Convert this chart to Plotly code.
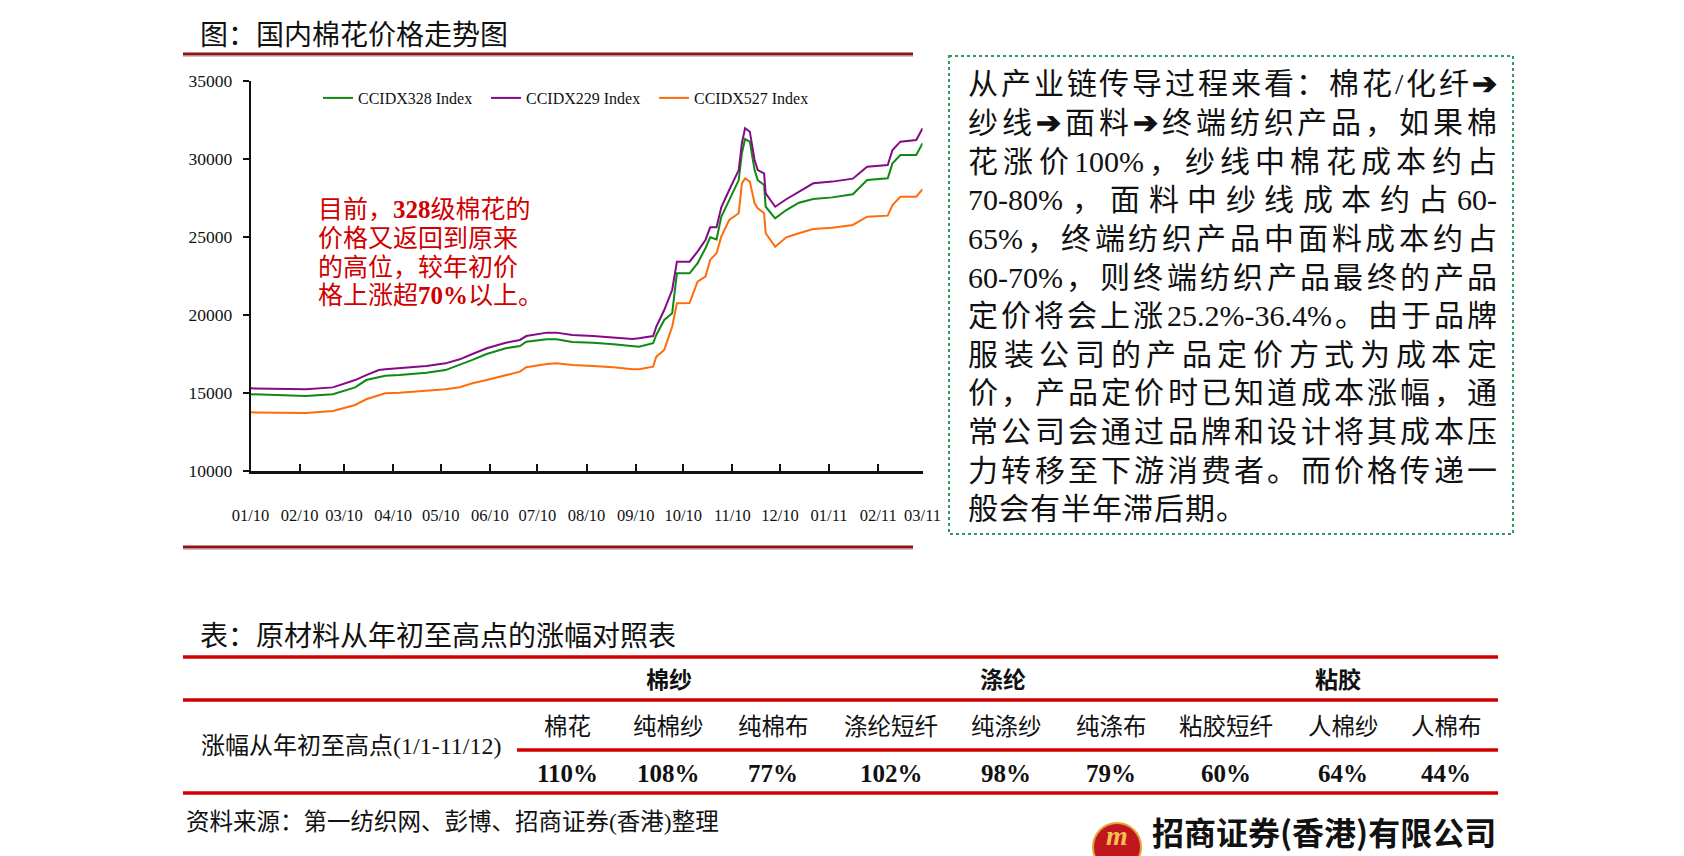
import plotly.graph_objects as go

W, H = 1684, 856

# ---------------- data ----------------
dates = ["2010-01-01", "2010-01-26", "2010-02-05", "2010-02-22", "2010-02-28", "2010-03-08",
         "2010-03-15", "2010-03-23", "2010-03-27", "2010-04-05", "2010-04-22", "2010-05-04",
         "2010-05-13", "2010-05-21", "2010-05-30", "2010-06-11", "2010-06-20", "2010-06-24",
         "2010-07-07", "2010-07-13", "2010-07-23", "2010-08-05", "2010-08-18", "2010-08-30",
         "2010-09-03", "2010-09-12", "2010-09-14", "2010-09-19", "2010-09-24", "2010-09-27",
         "2010-10-05", "2010-10-10", "2010-10-15", "2010-10-18", "2010-10-22", "2010-10-25",
         "2010-10-30", "2010-11-05", "2010-11-07", "2010-11-09", "2010-11-12", "2010-11-15",
         "2010-11-17", "2010-11-21", "2010-11-22", "2010-11-28", "2010-12-05", "2010-12-13",
         "2010-12-22", "2011-01-03", "2011-01-16", "2011-01-25", "2011-02-07", "2011-02-10",
         "2011-02-15", "2011-02-25", "2011-03-01"]

ccidx328 = [14920, 14870, 14810, 14920, 15130, 15360, 15830, 16050, 16110, 16150, 16300, 16470,
            16800, 17120, 17500, 17870, 18010, 18290, 18440, 18440, 18270, 18220, 18120, 18010,
            17970, 18190, 18720, 19680, 20110, 22670, 22670, 23310, 24280, 24980, 24850, 26300,
            27370, 28650, 30370, 31280, 31110, 29290, 28650, 28330, 26940, 26200, 26730, 27200,
            27440, 27540, 27740, 28650, 28760, 29720, 30260, 30260, 31010]

ccidx229 = [15300, 15280, 15240, 15360, 15580, 15830, 16150, 16470, 16520, 16580, 16730, 16900,
            17160, 17500, 17870, 18220, 18400, 18650, 18870, 18870, 18720, 18650, 18570, 18460,
            18510, 18650, 19250, 20320, 21600, 23420, 23420, 24060, 24810, 25620, 25620, 26900,
            28010, 29290, 31010, 31970, 31750, 29940, 29290, 29080, 27800, 26940, 27420, 27900,
            28440, 28550, 28740, 29510, 29610, 30580, 31110, 31220, 31970]

ccidx527 = [13760, 13760, 13720, 13850, 14020, 14230, 14600, 14870, 14980, 15020, 15130, 15240,
            15370, 15620, 15830, 16150, 16370, 16650, 16860, 16900, 16800, 16730, 16650, 16520,
            16520, 16690, 17330, 17760, 19250, 20750, 20770, 22130, 22460, 23530, 23960, 25020,
            26090, 26520, 28440, 28760, 28550, 27160, 26840, 26520, 25240, 24380, 24980, 25240,
            25510, 25600, 25770, 26300, 26370, 27050, 27580, 27580, 28060]

series_names = ["CCIDX328 Index", "CCIDX229 Index", "CCIDX527 Index"]
series_colors = ["#0E8A12", "#850A88", "#FF6D0A"]

y_ticks = [10000, 15000, 20000, 25000, 30000, 35000]

chart_title = "图：国内棉花价格走势图"
note_lines = ["目前，<b>328</b>级棉花的", "价格又返回到原来", "的高位，较年初价", "格上涨超<b>70%</b>以上。"]

box_lines = [
    "从产业链传导过程来看：棉花/化纤➔",
    "纱线➔面料➔终端纺织产品，如果棉",
    "花涨价100%，纱线中棉花成本约占",
    "70-80%，面料中纱线成本约占60-",
    "65%，终端纺织产品中面料成本约占",
    "60-70%，则终端纺织产品最终的产品",
    "定价将会上涨25.2%-36.4%。由于品牌",
    "服装公司的产品定价方式为成本定",
    "价，产品定价时已知道成本涨幅，通",
    "常公司会通过品牌和设计将其成本压",
    "力转移至下游消费者。而价格传递一",
    "般会有半年滞后期。",
]

table_title = "表：原材料从年初至高点的涨幅对照表"
group_labels = ["棉纱", "涤纶", "粘胶"]
item_labels = ["棉花", "纯棉纱", "纯棉布", "涤纶短纤", "纯涤纱", "纯涤布", "粘胶短纤", "人棉纱", "人棉布"]
item_values = [110, 108, 77, 102, 98, 79, 60, 64, 44]
row_label = "涨幅从年初至高点(1/1-11/12)"
source_text = "资料来源：第一纺织网、彭博、招商证券(香港)整理"
company_text = "招商证券(香港)有限公司"

# ---------------- helpers ----------------
def px(x):
    return x / W


def py(y):
    return 1 - y / H


SERIF_CJK = "Liberation Serif, Noto Sans CJK SC"
CJK = "Noto Sans CJK SC"

fig = go.Figure()
for name, vals, col in zip(series_names, [ccidx328, ccidx229, ccidx527], series_colors):
    fig.add_trace(go.Scatter(x=dates, y=vals, mode="lines", name=name,
                             line=dict(color=col, width=2)))

annotations = []
shapes = []

# chart title + rules
annotations.append(dict(x=px(198), y=py(33), xref="paper", yref="paper", text=chart_title,
                        showarrow=False, xanchor="left", yanchor="middle",
                        font=dict(family=CJK, size=28, color="#111111")))
for yy in (54, 547):
    shapes.append(dict(type="line", xref="paper", yref="paper", x0=px(183), x1=px(913),
                       y0=py(yy), y1=py(yy), line=dict(color="#8E1414", width=3)))
    shapes.append(dict(type="line", xref="paper", yref="paper", x0=px(183), x1=px(913),
                       y0=py(yy + 2.5), y1=py(yy + 2.5), line=dict(color="#D8C0C0", width=1)))

# red note inside chart
for i, ln in enumerate(note_lines):
    annotations.append(dict(x=px(316), y=py(209 + i * 29), xref="paper", yref="paper", text=ln,
                            showarrow=False, xanchor="left", yanchor="middle",
                            font=dict(family=SERIF_CJK, size=25, color="#D00000")))

# ---------------- justified text box ----------------
def char_w(ch):
    if ch.isdigit():
        return 0.5
    return {'%': 0.833, '-': 0.333, '.': 0.25, '/': 0.278}.get(ch, 0.5)


def tokenize(line):
    toks, buf = [], ""
    for ch in line:
        if ord(ch) < 128:
            buf += ch
        else:
            if buf:
                toks.append(buf)
                buf = ""
            toks.append(ch)
    if buf:
        toks.append(buf)
    return toks


def tok_w(t, fs):
    if len(t) == 1 and ord(t) >= 128:
        return fs * (0.84 if t == "➔" else 1.0)
    return fs * sum(char_w(c) for c in t)


BOX_FS = 30
left, right = 967, 1496
for i, ln in enumerate(box_lines):
    toks = tokenize(ln)
    widths = [tok_w(t, BOX_FS) for t in toks]
    if i == len(box_lines) - 1:
        gap = 1.0
    else:
        gap = (right - left - sum(widths)) / max(1, len(toks) - 1)
    xcur = left
    yline = 84 + i * 38.6
    for t, w in zip(toks, widths):
        txt = "<b>%s</b>" % t if t == "➔" else t
        annotations.append(dict(x=px(xcur), y=py(yline), xref="paper", yref="paper", text=txt,
                                showarrow=False, xanchor="left", yanchor="middle", borderpad=0,
                                font=dict(family=SERIF_CJK, size=BOX_FS, color="#111111")))
        xcur += w + gap

shapes.append(dict(type="rect", xref="paper", yref="paper", x0=px(949), x1=px(1513),
                   y0=py(56), y1=py(534), line=dict(color="#2E9A5C", width=2, dash="dot")))

# ---------------- table ----------------
annotations.append(dict(x=px(198), y=py(634), xref="paper", yref="paper", text=table_title,
                        showarrow=False, xanchor="left", yanchor="middle",
                        font=dict(family=CJK, size=28, color="#111111")))
for yy, x0 in ((657, 183), (700, 183), (750, 517), (793, 183)):
    shapes.append(dict(type="line", xref="paper", yref="paper", x0=px(x0), x1=px(1498),
                       y0=py(yy), y1=py(yy), line=dict(color="#D00000", width=3.5)))

col_x = [567, 668, 773, 891, 1006, 1111, 1226, 1343, 1446]
for g, lab in enumerate(group_labels):
    cx = sum(col_x[g * 3:g * 3 + 3]) / 3
    annotations.append(dict(x=px(cx), y=py(680), xref="paper", yref="paper", text="<b>%s</b>" % lab,
                            showarrow=False, xanchor="center", yanchor="middle",
                            font=dict(family=SERIF_CJK, size=23, color="#111111")))
for cx, lab, v in zip(col_x, item_labels, item_values):
    annotations.append(dict(x=px(cx), y=py(727), xref="paper", yref="paper", text=lab,
                            showarrow=False, xanchor="center", yanchor="middle",
                            font=dict(family=SERIF_CJK, size=23.5, color="#111111")))
    annotations.append(dict(x=px(cx), y=py(773), xref="paper", yref="paper", text="<b>%d%%</b>" % v,
                            showarrow=False, xanchor="center", yanchor="middle",
                            font=dict(family=SERIF_CJK, size=25, color="#111111")))
annotations.append(dict(x=px(199), y=py(746), xref="paper", yref="paper", text=row_label,
                        showarrow=False, xanchor="left", yanchor="middle",
                        font=dict(family=SERIF_CJK, size=24, color="#111111")))
annotations.append(dict(x=px(184), y=py(822), xref="paper", yref="paper", text=source_text,
                        showarrow=False, xanchor="left", yanchor="middle",
                        font=dict(family=SERIF_CJK, size=23.5, color="#111111")))

# company logo
shapes.append(dict(type="circle", xref="paper", yref="paper", x0=px(1093), x1=px(1141),
                   y0=py(823), y1=py(871), fillcolor="#C0161E", line=dict(color="#E3A33A", width=2)))
annotations.append(dict(x=px(1117), y=py(835), xref="paper", yref="paper", text="<b><i>m</i></b>",
                        showarrow=False, xanchor="center", yanchor="middle",
                        font=dict(family="Liberation Serif", size=28, color="#F2C14E")))
annotations.append(dict(x=px(1150), y=py(831), xref="paper", yref="paper", text="<b>%s</b>" % company_text,
                        showarrow=False, xanchor="left", yanchor="middle",
                        font=dict(family=CJK, size=32, color="#111111")))

fig.update_layout(
    width=W, height=H, autosize=False,
    margin=dict(l=0, r=0, t=0, b=0, autoexpand=False),
    paper_bgcolor="white", plot_bgcolor="white",
    showlegend=True,
    legend=dict(orientation="h", x=px(318), xanchor="left", y=py(98), yanchor="middle",
                font=dict(family="Liberation Serif", size=16, color="#111111"),
                bgcolor="rgba(0,0,0,0)", entrywidth=123, itemwidth=30),
    xaxis=dict(domain=[px(250.5), px(922.6)], type="date", range=["2010-01-01", "2011-03-01"],
               tickmode="linear", tick0="2010-01-01", dtick="M1", tickformat="%m/%y",
               ticks="inside", ticklen=7, tickwidth=1.5, tickcolor="#111111",
               showline=True, linecolor="#111111", linewidth=2.5, showgrid=False, zeroline=False,
               tickangle=0, ticklabelstandoff=27,
               tickfont=dict(family="Liberation Serif", size=16.5, color="#111111")),
    yaxis=dict(domain=[py(471), py(81)], range=[10000, 35000], tickmode="array", tickvals=y_ticks,
               ticktext=[str(v) for v in y_ticks],
               ticks="outside", ticklen=6, tickwidth=1.5, tickcolor="#111111",
               showline=True, linecolor="#111111", linewidth=1.5, showgrid=False, zeroline=False,
               ticklabelstandoff=7,
               tickfont=dict(family="Liberation Serif", size=17.5, color="#111111")),
    annotations=annotations,
    shapes=shapes,
)

fig.write_html("out.html")
